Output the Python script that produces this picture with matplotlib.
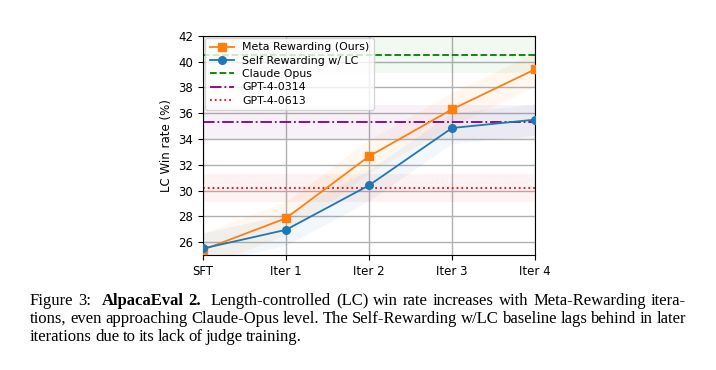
import numpy as np
import matplotlib.pyplot as plt

# Данные
iters = ["SFT", "Iter 1", "Iter 2", "Iter 3", "Iter 4"]
meta_rewarding = [25.4, 27.85, 32.65, 36.3, 39.4]
self_rewarding = [25.5, 26.95, 30.4, 34.85, 35.5]
meta_err = [1.3, 1.3, 1.3, 1.3, 1.3]
self_err = [1.2, 1.2, 1.2, 1.2, 1.2]

baseline_names = ["Claude Opus", "GPT-4-0314", "GPT-4-0613"]
baseline_values = [40.5, 35.3, 30.2]
baseline_err = [1.4, 1.3, 1.1]
baseline_colors = ["green", "purple", "red"]
baseline_styles = ["--", "-.", ":"]

caption_lines = [
    [("Figure 3:", "normal"), ("AlpacaEval 2.", "bold"),
     ("Length-controlled (LC) win rate increases with Meta-Rewarding itera-", "normal")],
    [("tions, even approaching Claude-Opus level. The Self-Rewarding w/LC baseline lags behind in later", "normal")],
    [("iterations due to its lack of judge training.", "normal")],
]

fig = plt.figure(figsize=(7.16, 3.70), dpi=100)
ax = fig.add_axes([0.2835, 0.311, 0.4637, 0.592])

x = np.arange(len(iters))
meta = np.array(meta_rewarding)
selfr = np.array(self_rewarding)

ax.fill_between(x, meta - np.array(meta_err), meta + np.array(meta_err),
                color="tab:orange", alpha=0.06, linewidth=0)
ax.fill_between(x, selfr - np.array(self_err), selfr + np.array(self_err),
                color="tab:blue", alpha=0.06, linewidth=0)
ax.plot(x, meta, color="tab:orange", marker="s", markersize=5.5,
        linewidth=1.3, label="Meta Rewarding (Ours)", zorder=3)
ax.plot(x, selfr, color="tab:blue", marker="o", markersize=5.5,
        linewidth=1.3, label="Self Rewarding w/ LC", zorder=3)

for name, v, e, c, ls in zip(baseline_names, baseline_values, baseline_err,
                             baseline_colors, baseline_styles):
    ax.axhspan(v - e, v + e, color=c, alpha=0.05, linewidth=0)
    ax.axhline(v, color=c, linestyle=ls, linewidth=1.3, label=name)

ax.set_xlim(0, 4)
ax.set_ylim(25, 42)
ax.set_xticks(x)
ax.set_xticklabels(iters)
ax.set_yticks(np.arange(26, 43, 2))
ax.tick_params(labelsize=8.5)
ax.set_ylabel("LC Win rate (%)", fontsize=8.5)
ax.grid(True, color="#b0b0b0", linewidth=1)
ax.set_axisbelow(True)
ax.legend(loc="upper left", fontsize=7.9, borderaxespad=0.2,
          handlelength=2.2, labelspacing=0.3)

# Подпись с выравниванием по ширине
renderer = fig.canvas.get_renderer()
x0, x1 = 30 / 716, 686 / 716
ys = [1 - 305 / 370, 1 - 323 / 370, 1 - 341 / 370]
fs = 12.0
for i, parts in enumerate(caption_lines):
    words = []
    for j, (text, weight) in enumerate(parts):
        ws = text.split()
        for k, w in enumerate(ws):
            # двойной пробел после "Figure 3:" и "AlpacaEval 2."
            gap = 2.0 if (k == len(ws) - 1 and j < len(parts) - 1) else 1.0
            words.append((w, weight, gap))
    justify = i < len(caption_lines) - 1
    arts = [fig.text(0, ys[i], w, fontsize=fs, family="Liberation Serif",
                     fontweight=wt) for w, wt, g in words]
    widths = [a.get_window_extent(renderer).width / fig.bbox.width for a in arts]
    gaps = [g for _, _, g in words[:-1]]
    space = 0.0045
    if justify:
        space = (x1 - x0 - sum(widths)) / sum(gaps)
    pos = x0
    for a, wdt, g in zip(arts, widths, gaps + [1.0]):
        a.set_x(pos)
        pos += wdt + space * g

fig.savefig("out.png", dpi=100)
plt.close(fig)
